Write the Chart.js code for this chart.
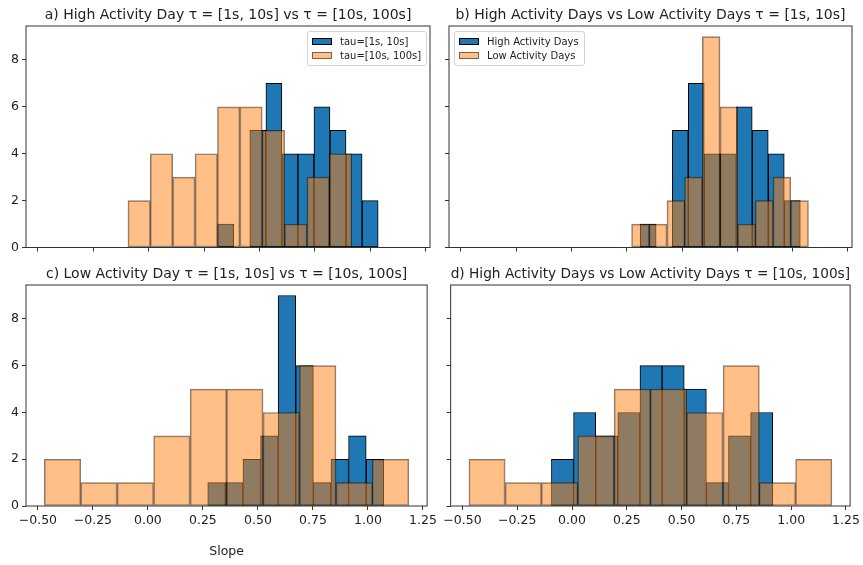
<!DOCTYPE html>
<html>
<head>
<meta charset="utf-8">
<script src="https://cdn.jsdelivr.net/npm/chart.js@4.4.0/dist/chart.umd.min.js"></script>
<style>
html,body{margin:0;padding:0;background:#fff;}
#wrap{position:relative;width:863px;height:565px;overflow:hidden;background:#fff;font-family:'DejaVu Sans',sans-serif;}
#wrap canvas{position:absolute;}
.legend{position:absolute;background:rgba(255,255,255,0.8);border:1px solid #d4d4d4;border-radius:3px;box-sizing:border-box;padding:2px 5px 2px 4px;font-size:10px;color:#222;z-index:5;}
.legend .row{display:flex;align-items:center;height:14.5px;white-space:nowrap;}
.legend .sw{width:20px;height:7px;box-sizing:border-box;margin-right:8px;flex:none;}
</style>
</head>
<body>
<div id="wrap"></div>
<script>
// ---------------- data ----------------
// High Activity Days, tau = [1s, 10s]
const highShortEdges  = [0.311, 0.383, 0.456, 0.528, 0.601, 0.673, 0.745, 0.818, 0.890, 0.963, 1.035];
const highShortCounts = [1, 0, 5, 7, 4, 4, 6, 5, 4, 2];
// High Activity Days, tau = [10s, 100s]
const highLongEdges   = [-0.094, 0.007, 0.108, 0.209, 0.310, 0.411, 0.512, 0.613, 0.714, 0.815, 0.916];
const highLongCounts  = [2, 4, 3, 4, 6, 6, 5, 1, 3, 4];
// Low Activity Days, tau = [1s, 10s]
const lowShortEdges   = [0.272, 0.352, 0.432, 0.512, 0.592, 0.672, 0.752, 0.832, 0.912, 0.992, 1.072];
const lowShortCounts  = [1, 1, 2, 3, 9, 6, 1, 2, 3, 2];
// Low Activity Days, tau = [10s, 100s]
const lowLongEdges    = [-0.471, -0.305, -0.140, 0.026, 0.192, 0.358, 0.523, 0.689, 0.855, 1.020, 1.186];
const lowLongCounts   = [2, 1, 1, 3, 5, 5, 4, 6, 1, 2];

const xTickValues = [-0.5, -0.25, 0, 0.25, 0.5, 0.75, 1.0, 1.25];
const xTickLabels = ['\u22120.50', '\u22120.25', '0.00', '0.25', '0.50', '0.75', '1.00', '1.25'];
const yTickValues = [0, 2, 4, 6, 8];
const yTickLabels = ['0', '2', '4', '6', '8'];
const xLimits = [-0.554, 1.269];
const yLimits = [0, 9.45];

const panelTitles = [
  'a) High Activity Day \u03c4 = [1s, 10s] vs \u03c4 = [10s, 100s]',
  'b) High Activity Days vs Low Activity Days \u03c4 = [1s, 10s]',
  'c) Low Activity Day \u03c4 = [1s, 10s] vs \u03c4 = [10s, 100s]',
  'd) High Activity Days vs Low Activity Days \u03c4 = [10s, 100s]'
];
const legendLabelsA = ['tau=[1s, 10s]', 'tau=[10s, 100s]'];
const legendLabelsB = ['High Activity Days', 'Low Activity Days'];
const xAxisLabel = 'Slope';

// ---------------- styling / layout ----------------
const FONT = "'DejaVu Sans', sans-serif";
Chart.defaults.font.family = FONT;
const BLUE = '#1f77b4', BLUE_EDGE = '#000000';
const ORANGE = 'rgba(255,127,14,0.5)', ORANGE_EDGE = 'rgba(0,0,0,0.5)';
const TXT = '#222';

function toBars(edges, counts) {
  return counts.map((c, i) => ({ x: (edges[i] + edges[i + 1]) / 2, y: c }));
}

const spinePlugin = {
  id: 'spines',
  afterDraw(chart) {
    const { ctx, chartArea: a } = chart;
    ctx.save();
    ctx.strokeStyle = '#333';
    ctx.lineWidth = 1;
    ctx.strokeRect(a.left, a.top, a.right - a.left, a.bottom - a.top);
    ctx.restore();
  }
};

const panels = [
  { title: panelTitles[0], box: { left: 0, top: 0, w: 440, h: 262 }, yW: 26, xH: 14.5, padR: 10,
    tPad: { top: 7, bottom: 2.2 }, xLabels: false, yLabels: true, xTitle: '',
    s0: { label: legendLabelsA[0], edges: highShortEdges, counts: highShortCounts },
    s1: { label: legendLabelsA[1], edges: highLongEdges, counts: highLongCounts },
    legend: { left: 307, top: 31 } },
  { title: panelTitles[1], box: { left: 440, top: 0, w: 423, h: 262 }, yW: 9, xH: 14.5, padR: 11,
    tPad: { top: 7, bottom: 2.2 }, xLabels: false, yLabels: false, xTitle: '',
    s0: { label: legendLabelsB[0], edges: highShortEdges, counts: highShortCounts },
    s1: { label: legendLabelsB[1], edges: lowShortEdges, counts: lowShortCounts },
    legend: { left: 454, top: 31 } },
  { title: panelTitles[2], box: { left: 0, top: 260, w: 440, h: 305 }, yW: 26, xH: 59, padR: 10,
    tPad: { top: 5.6, bottom: 2.6 }, xLabels: true, yLabels: true, xTitle: xAxisLabel,
    s0: { label: legendLabelsA[0], edges: lowShortEdges, counts: lowShortCounts },
    s1: { label: legendLabelsA[1], edges: lowLongEdges, counts: lowLongCounts },
    legend: null },
  { title: panelTitles[3], box: { left: 440, top: 260, w: 423, h: 305 }, yW: 9, xH: 59, padR: 11,
    tPad: { top: 5.6, bottom: 2.6 }, xLabels: true, yLabels: false, xTitle: '',
    s0: { label: legendLabelsB[0], edges: highLongEdges, counts: highLongCounts },
    s1: { label: legendLabelsB[1], edges: lowLongEdges, counts: lowLongCounts },
    legend: null }
];

const wrap = document.getElementById('wrap');

function makeLegend(p) {
  const d = document.createElement('div');
  d.className = 'legend';
  d.style.left = p.legend.left + 'px';
  d.style.top = p.legend.top + 'px';
  [[p.s0.label, BLUE, BLUE_EDGE], [p.s1.label, ORANGE, ORANGE_EDGE]].forEach(([t, bg, bd]) => {
    const r = document.createElement('div'); r.className = 'row';
    const sw = document.createElement('span'); sw.className = 'sw';
    sw.style.background = bg; sw.style.border = '1px solid ' + bd;
    const tx = document.createElement('span'); tx.textContent = t;
    r.appendChild(sw); r.appendChild(tx); d.appendChild(r);
  });
  wrap.appendChild(d);
}

function makePanel(p) {
  const cv = document.createElement('canvas');
  cv.width = p.box.w; cv.height = p.box.h;
  cv.style.left = p.box.left + 'px'; cv.style.top = p.box.top + 'px';
  cv.style.width = p.box.w + 'px'; cv.style.height = p.box.h + 'px';
  wrap.appendChild(cv);

  const tickGrid = { display: true, drawOnChartArea: false, drawTicks: true, tickLength: 4, color: '#333', lineWidth: 1, offset: false };
  const xBase = {
    type: 'linear', min: xLimits[0], max: xLimits[1], offset: false,
    afterBuildTicks: s => { s.ticks = xTickValues.map(v => ({ value: v })); }
  };
  const barCommon = { borderWidth: 1, borderSkipped: false, barPercentage: 1, categoryPercentage: 1, grouped: false };

  new Chart(cv, {
    type: 'bar',
    data: {
      datasets: [
        Object.assign({ label: p.s0.label, data: toBars(p.s0.edges, p.s0.counts), xAxisID: 'x', yAxisID: 'y',
          backgroundColor: BLUE, borderColor: BLUE_EDGE, order: 2 }, barCommon),
        Object.assign({ label: p.s1.label, data: toBars(p.s1.edges, p.s1.counts), xAxisID: 'x2', yAxisID: 'y',
          backgroundColor: ORANGE, borderColor: ORANGE_EDGE, order: 1 }, barCommon)
      ]
    },
    options: {
      responsive: false, animation: false, devicePixelRatio: 1,
      layout: { padding: { left: 0, right: p.padR, top: 0, bottom: 0 } },
      plugins: {
        legend: { display: false },
        tooltip: { enabled: false },
        title: { display: true, text: p.title, fullSize: false, align: 'center', color: TXT,
          font: { size: 14, weight: 'normal', family: FONT, lineHeight: 1.2 }, padding: p.tPad }
      },
      scales: {
        x: Object.assign({}, xBase, {
          grid: tickGrid, border: { display: false },
          ticks: { display: p.xLabels, autoSkip: false, maxRotation: 0, minRotation: 0, padding: 3, color: TXT,
            font: { size: 12.5, family: FONT }, callback: (v, i) => xTickLabels[i] },
          title: { display: !!p.xTitle, text: p.xTitle, color: TXT, font: { size: 12.5, family: FONT, lineHeight: 1.2 },
            padding: { top: 0, bottom: 5.5 } },
          afterFit: s => { s.height = p.xH; }
        }),
        x2: Object.assign({}, xBase, { display: false, grid: { offset: false } }),
        y: {
          type: 'linear', min: yLimits[0], max: yLimits[1],
          afterBuildTicks: s => { s.ticks = yTickValues.map(v => ({ value: v })); },
          grid: tickGrid, border: { display: false },
          ticks: { display: p.yLabels, padding: 3, color: TXT, font: { size: 12.5, family: FONT },
            callback: (v, i) => yTickLabels[i] },
          afterFit: s => { s.width = p.yW; }
        }
      }
    },
    plugins: [spinePlugin]
  });
  if (p.legend) makeLegend(p);
}

panels.forEach(makePanel);
</script>
</body>
</html>
